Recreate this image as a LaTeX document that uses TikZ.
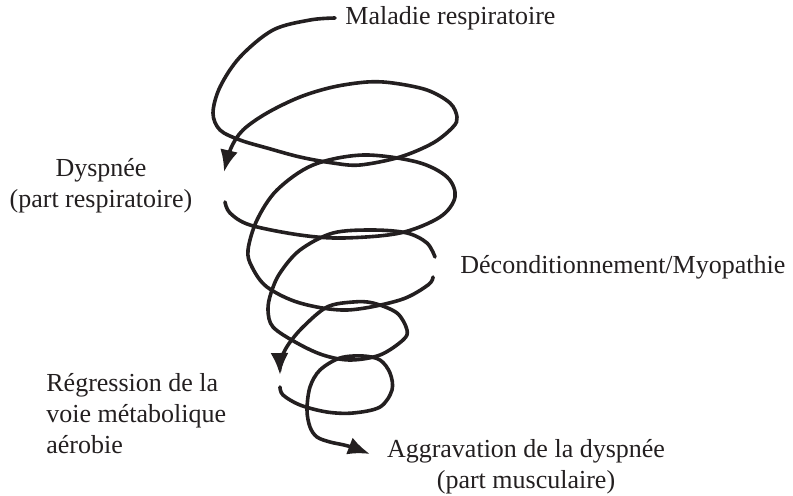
\documentclass[tikz,border=0pt]{standalone}
\usepackage{fontspec}
\setmainfont{Liberation Serif}
\usepackage{xcolor}
\usepackage{tikz}
\usetikzlibrary{arrows.meta}
\definecolor{ink}{HTML}{231F20}

\begin{document}
\begin{tikzpicture}[x=0.5pt, y=-0.5pt, every node/.style={font=\fontsize{13}{15.5}\selectfont, text=ink}]
  \tikzstyle{lbl}=[inner sep=5pt, align=center]
  \tikzstyle{coil}=[draw=ink, line width=1.8pt, line cap=round]
  \tikzstyle{coilend}=[-{Latex[length=11pt,width=9pt]}]
  \useasboundingbox (0,0) rectangle (793,495);
  % labels
  \node[lbl, anchor=west] (mal) at (335,18) {Maladie respiratoire};
  \node[lbl] (dys) at (101,186) {Dyspnée\\(part respiratoire)};
  \node[lbl, anchor=west] (dec) at (450,267) {Déconditionnement/Myopathie};
  \node[lbl, align=left, anchor=west] (reg) at (36,414) {Régression de la\\voie métabolique\\aérobie};
  \node[lbl] (agg) at (526,467) {Aggravation de la dyspnée\\(part musculaire)};
  \coordinate (aggtip) at (370,454);
  % spiral, top turn
  \draw[coil, coilend] plot[smooth, tension=0.55] coordinates {(mal.west) (310,20) (273,30) (240,57) (220,87) (213,113) (220,130) (240,140) (267,148) (300,157) (333,163) (360,165) (400,157) (433,143) (453,127) (457,117) (450,103) (427,90) (393,83) (367,82) (333,87) (300,97) (267,113) (243,130) (231,148) (224,172)};
  % second and third turn
  \draw[coil] plot[smooth, tension=0.55] coordinates {(225,202) (230,213) (250,225) (300,235) (343,238) (400,233) (440,217) (455,197) (447,177) (417,162) (363,155) (313,165) (277,190) (257,220) (248,250) (252,267) (267,287) (300,303) (347,310) (400,300) (428,285) (433,277)};
  \draw[coil, coilend] plot[smooth, tension=0.55] coordinates {(435,257) (427,243) (407,233) (373,230) (333,233) (300,250) (280,273) (271,293) (268,310) (273,327) (297,343) (323,355) (350,360) (380,355) (403,340) (407,330) (397,313) (373,303) (353,302) (327,307) (303,327) (288,345) (281,360) (280,375)};
  % last turn
  \draw[coil, coilend] plot[smooth, tension=0.55] coordinates {(280,387) (283,395) (300,405) (327,412) (353,413) (380,407) (392,390) (390,373) (380,360) (363,356) (340,358) (320,370) (310,387) (307,410) (310,427) (317,437) (330,442) (348,446) (aggtip)};
\end{tikzpicture}
\end{document}
